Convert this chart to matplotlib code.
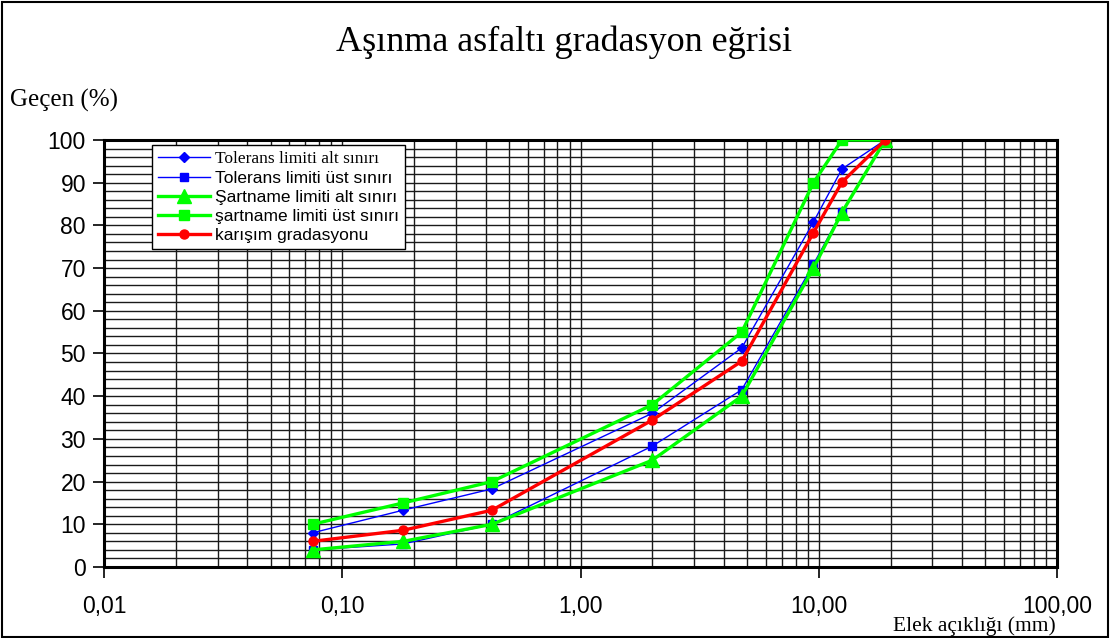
import matplotlib
matplotlib.use("Agg")
import matplotlib.pyplot as plt
from matplotlib.ticker import FixedLocator, LogLocator, NullFormatter, FuncFormatter
from matplotlib.patches import Rectangle

# Sieve openings (mm)
sieves = [0.075, 0.18, 0.425, 2.0, 4.75, 9.5, 12.5, 19.0]

# Percent passing for each curve
tol_alt = [8.0, 13.3, 18.3, 36.0, 51.3, 80.8, 93.2, 100.0]
tol_ust = [4.0, 5.4, 10.0, 28.3, 41.5, 70.9, 83.2, 100.0]
sart_alt = [4.0, 6.0, 10.0, 25.0, 40.0, 70.0, 83.0, 100.0]
sart_ust = [10.0, 15.0, 20.0, 38.0, 55.0, 90.0, 100.0, 100.0]
karisim = [6.0, 8.6, 13.3, 34.4, 48.2, 78.3, 90.1, 100.0]

labels = [
    "Tolerans limiti alt sınırı",
    "Tolerans limiti üst sınırı",
    "Şartname limiti alt sınırı",
    "şartname limiti üst sınırı",
    "karışım gradasyonu",
]
x_ticks = [0.01, 0.1, 1, 10, 100]
x_ticklabels = ["0,01", "0,10", "1,00", "10,00", "100,00"]
y_ticks = [0, 10, 20, 30, 40, 50, 60, 70, 80, 90, 100]

SERIF = ["Liberation Serif", "DejaVu Serif"]
SANS = ["Liberation Sans", "DejaVu Sans"]

fig = plt.figure(figsize=(11.10, 6.38), dpi=100)
fig.patch.set_facecolor("white")
fig.patches.append(Rectangle((0.002, 0.002), 0.996, 0.995, transform=fig.transFigure,
                             fill=False, edgecolor="black", linewidth=1.5))

ax = fig.add_axes([0.0937, 0.1113, 0.8586, 0.6693])
ax.set_xscale("log")
ax.set_xlim(0.01, 100)
ax.set_ylim(0, 100)

# Dense grid: every 2 % horizontally, every integer multiple per decade vertically
ax.yaxis.set_minor_locator(FixedLocator(list(range(0, 101, 2))))
ax.xaxis.set_minor_locator(LogLocator(base=10, subs=range(1, 10), numticks=20))
ax.xaxis.set_minor_formatter(NullFormatter())
ax.grid(True, which="both", axis="both", color="#1a1a1a", linewidth=1.0)
ax.tick_params(which="minor", length=0)
ax.tick_params(which="major", direction="out", length=8, width=1.2, labelsize=16.5, pad=5)
ax.set_axisbelow(True)

ax.set_xticks(x_ticks)
ax.xaxis.set_major_formatter(FuncFormatter(lambda v, p: x_ticklabels[x_ticks.index(v)] if v in x_ticks else ""))
ax.set_yticks(y_ticks)
for t in ax.get_xticklabels() + ax.get_yticklabels():
    t.set_fontfamily(SANS)
ax.tick_params(axis="x", pad=12)

for side in ["left", "bottom", "right", "top"]:
    ax.spines[side].set_linewidth(2.2)
    ax.spines[side].set_color("black")

ax.plot(sieves, tol_alt, color="#0000ff", lw=1.0, marker="D", ms=5.5, label=labels[0], zorder=4)
ax.plot(sieves, tol_ust, color="#0000ff", lw=1.0, marker="s", ms=6, label=labels[1], zorder=4)
ax.plot(sieves, sart_alt, color="#00ff00", lw=2.4, marker="^", ms=10, label=labels[2], zorder=5)
ax.plot(sieves, sart_ust, color="#00ff00", lw=2.4, marker="s", ms=6.5, label=labels[3], zorder=5)
ax.plot(sieves, karisim, color="#ff0000", lw=2.4, marker="o", ms=6.5, label=labels[4], zorder=6)

leg = ax.legend(loc="upper left", bbox_to_anchor=(0.05, 0.988), borderaxespad=0.0,
                frameon=True, fancybox=False,
                edgecolor="black", framealpha=1, prop={"family": SANS, "size": 12.5},
                handlelength=3.0, handletextpad=0.3, labelspacing=0.22, borderpad=0.35)
leg.get_frame().set_linewidth(1.0)
leg.get_texts()[0].set_fontfamily(SERIF)
leg.set_zorder(10)

fig.text(0.508, 0.933, "Aşınma asfaltı gradasyon eğrisi", ha="center", va="center",
         fontsize=26, family=SERIF)
fig.text(0.009, 0.843, "Geçen (%)", ha="left", va="center", fontsize=18, family=SERIF)
fig.text(0.951, 0.018, "Elek açıklığı (mm)", ha="right", va="center", fontsize=15.5, family=SERIF)

fig.savefig("out.png", dpi=100, facecolor="white")
